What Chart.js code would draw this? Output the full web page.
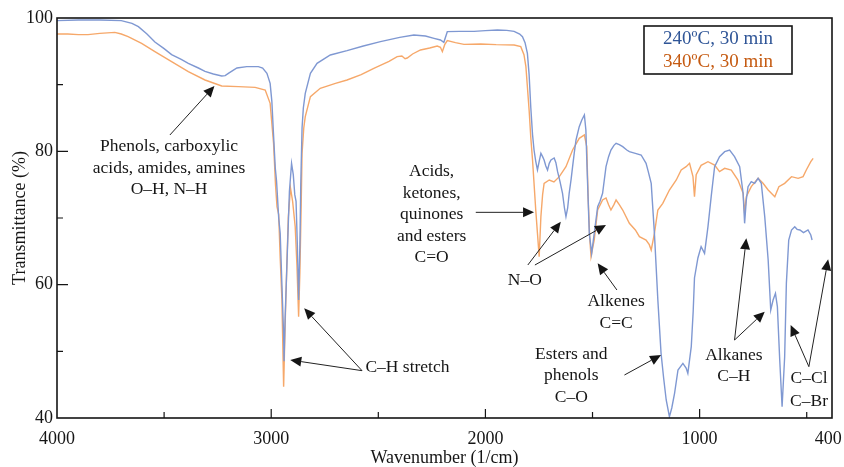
<!DOCTYPE html>
<html>
<head>
<meta charset="utf-8">
<script src="https://cdn.jsdelivr.net/npm/chart.js@4.4.0/dist/chart.umd.min.js"></script>
<style>
  html, body { margin: 0; padding: 0; background: #fff; }
</style>
</head>
<body>
<canvas id="ftir" width="844" height="467"></canvas>
<script>
// values (wavenumber in 1/cm, transmittance in %)
var seriesLabels = ['240ºC, 30 min', '340ºC, 30 min'];

var blueWavenumber = [
    4000, 3900, 3800, 3700, 3650, 3620, 3580, 3543, 3500, 3465,
    3420, 3387, 3340, 3309, 3270, 3231, 3215, 3200, 3180, 3160,
    3114, 3060, 3040, 3020, 3005, 2997, 2990, 2981, 2975, 2965,
    2958, 2950, 2942, 2940, 2935, 2927, 2915, 2905, 2897, 2890,
    2884, 2878, 2872, 2866, 2862, 2856, 2850, 2841, 2817, 2786,
    2724, 2646, 2570, 2490, 2400, 2334, 2280, 2240, 2210, 2194,
    2178, 2120, 2053, 2000, 1944, 1900, 1866, 1840, 1827, 1815,
    1804, 1796, 1788, 1780, 1773, 1765, 1757, 1749, 1741, 1733,
    1726, 1718, 1710, 1702, 1694, 1679, 1671, 1663, 1652, 1640,
    1631, 1624, 1616, 1609, 1600, 1593, 1585, 1577, 1562, 1550,
    1538, 1531, 1527, 1523, 1515, 1504, 1492, 1476, 1465, 1453,
    1437, 1425, 1414, 1400, 1390, 1375, 1359, 1340, 1328, 1300,
    1273, 1250, 1240, 1226, 1211, 1195, 1180, 1168, 1156, 1141,
    1130, 1117, 1101, 1078, 1063, 1055, 1039, 1030, 1024, 1008,
    993, 977, 961, 946, 930, 907, 883, 860, 837, 813,
    797, 790, 782, 774, 759, 743, 727, 712, 696, 680,
    668, 657, 646, 637, 626, 615, 603, 595, 584, 571,
    556, 545, 532, 515, 494, 481, 475
];
var blueTransmittance = [
    99.6, 99.7, 99.7, 99.6, 99.2, 98.7, 97.6, 96.4, 95.4, 94.5,
    93.8, 93.2, 92.5, 92.0, 91.6, 91.3, 91.35, 91.7, 92.1, 92.5,
    92.7, 92.7, 92.5, 91.7, 90.2, 87.5, 83, 77.5, 75.5, 70,
    67.7, 60, 52.5, 48.5, 55, 62.7, 74, 78.2, 76.5, 73.5,
    72.5, 66, 57.7, 66, 75, 83.5, 86.5, 88.7, 91.7, 93.2,
    94.45, 95.1, 95.8, 96.45, 97.1, 97.45, 97.3, 96.95, 96.7, 96.35,
    97.95, 98, 98, 98.1, 98.2, 98.15, 98, 97.6, 97.2, 96.3,
    94.7, 91.5, 86.5, 82.5, 80.2, 78.5, 77.2, 78.5, 79.7, 79.2,
    78.7, 77.8, 77.2, 78.2, 78.7, 79, 78.3, 76.95, 75.5, 73.7,
    71.5, 70.2, 71.5, 73.7, 75.8, 77.7, 79.8, 81.7, 83.7, 84.7,
    85.45, 83.2, 79, 75.2, 67.7, 64.7, 67.7, 71.7, 72.5, 73.7,
    77.7, 79.2, 80.2, 80.9, 81.2, 81, 80.7, 80.2, 79.95, 79.7,
    79.45, 78.2, 77, 75.2, 67.7, 57.7, 49.7, 46, 42.7, 40.2,
    41.5, 43.7, 47.2, 48.2, 47.5, 46.7, 50.7, 56, 61, 64,
    65.7, 64.7, 68.7, 73.2, 77.7, 79.2, 79.95, 80.2, 79.2, 77.7,
    73.7, 69.2, 72.7, 74.7, 75.45, 75.2, 75.95, 75.2, 70.2, 63.7,
    56.2, 57.7, 58.7, 56.7, 48.7, 41.7, 49.2, 60.2, 66.7, 68.2,
    68.7, 68.3, 68.2, 67.8, 68.2, 67.45, 66.7
];

var orangeWavenumber = [
    4000, 3950, 3900, 3855, 3800, 3730, 3700, 3668, 3605, 3543,
    3465, 3387, 3309, 3231, 3153, 3075, 3028, 3005, 2989, 2980,
    2973, 2965, 2958, 2950, 2942, 2935, 2927, 2920, 2910, 2900,
    2888, 2880, 2872, 2866, 2860, 2856, 2848, 2841, 2817, 2771,
    2700, 2646, 2580, 2521, 2450, 2412, 2390, 2375, 2365, 2340,
    2303, 2260, 2225, 2210, 2201, 2190, 2178, 2140, 2100, 2022,
    1950, 1866, 1835, 1820, 1811, 1796, 1788, 1780, 1773, 1765,
    1757, 1749, 1741, 1733, 1726, 1702, 1680, 1655, 1624, 1593,
    1562, 1538, 1527, 1520, 1513, 1507, 1492, 1476, 1453, 1437,
    1425, 1414, 1400, 1390, 1375, 1359, 1328, 1300, 1281, 1250,
    1235, 1226, 1211, 1195, 1172, 1141, 1109, 1086, 1063, 1047,
    1031, 1024, 1016, 993, 961, 930, 907, 883, 852, 821,
    797, 790, 782, 759, 727, 704, 680, 649, 630, 603,
    571, 540, 517, 502, 481, 470
];
var orangeTransmittance = [
    97.6, 97.6, 97.5, 97.5, 97.7, 97.85, 97.6, 97.2, 96.2, 94.95,
    93.45, 91.95, 90.7, 89.8, 89.7, 89.6, 89.2, 87.2, 81.2, 75,
    71.7, 70.5, 64, 57.7, 44.7, 54, 63, 70.2, 74.5, 72.5,
    68.7, 63, 55.2, 62, 72, 79.7, 83.5, 85.2, 88.2, 89.45,
    90.2, 90.7, 91.5, 92.45, 93.5, 94.2, 94.3, 93.9, 94, 94.6,
    95.2, 95.5, 95.8, 95.6, 94.95, 96, 96.6, 96.3, 96.05, 96.1,
    96, 95.95, 95.7, 94.5, 92.7, 86.2, 82, 78.7, 75.2, 71.2,
    67.7, 64.2, 70.2, 73.5, 75.2, 75.7, 75.4, 76.2, 77.7, 80.2,
    81.95, 82.45, 80.7, 72.7, 67, 64.2, 66.7, 71.2, 72.7, 73,
    72, 71.2, 72, 72.7, 72, 71.2, 69.2, 68.2, 67.2, 66.7,
    66, 65.2, 67.7, 71.2, 72.2, 74.2, 75.7, 77.2, 77.7, 78.2,
    76.2, 73.2, 76.5, 77.9, 78.45, 77.95, 76.95, 77.45, 77.2, 75.7,
    73.7, 70.7, 73.2, 74.7, 75.95, 75.2, 74.2, 73.2, 74.7, 75.2,
    76.2, 75.95, 76.2, 77.2, 78.45, 78.95
];

var xTickLabels = [4000, 3000, 2000, 1000, 400];
var xMinorTicks = [3500, 3000, 2500, 2000, 1500, 1000, 500];
var yTickLabels = [40, 60, 80, 100];
var yMinorTicks = [50, 60, 70, 80, 90];

// band assignments: text centre (wavenumber, %) and arrows [fromX, fromY, toX, toY]
var bandNotes = [
    { lines: ['Phenols, carboxylic', 'acids, amides, amines', 'O–H, N–H'], x: 3477, y: 80.7,
      arrows: [[3473, 82.45, 3265, 89.8]] },
    { lines: ['C–H stretch'], x: 2364, y: 47.65,
      arrows: [[2576, 47.1, 2911, 48.7], [2576, 47.1, 2846, 56.45]] },
    { lines: ['Acids,', 'ketones,', 'quinones', 'and esters', 'C=O'], x: 2251, y: 76.95,
      arrows: [[2045, 70.85, 1773, 70.85]] },
    { lines: ['N–O'], x: 1816, y: 60.6,
      arrows: [[1802, 62.95, 1648, 69.45], [1769, 62.95, 1437, 68.95]] },
    { lines: ['Alkenes', 'C=C'], x: 1390, y: 57.45,
      arrows: [[1386, 59.2, 1476, 63.2]] },
    { lines: ['Esters and', 'phenols', 'C–O'], x: 1599, y: 49.6,
      arrows: [[1351, 46.45, 1180, 49.45]] },
    { lines: ['Alkanes', 'C–H'], x: 840, y: 49.45,
      arrows: [[837, 51.7, 782, 66.95], [837, 51.7, 696, 55.95]] },
    { lines: ['C–Cl', 'C–Br'], x: 489, y: 45.95, gap: 23,
      arrows: [[490, 47.7, 575, 53.95], [490, 47.7, 400, 63.8]] }
];

var serif = "'Liberation Serif', 'Times New Roman', serif";
var ink = '#151515';

function toPoints(xs, ys) {
    return xs.map(function (v, i) { return { x: v, y: ys[i] }; });
}

function drawArrow(ctx, x1, y1, x2, y2) {
    var ang = Math.atan2(y2 - y1, x2 - x1);
    var len = 11, half = 5;
    var bx = x2 - len * Math.cos(ang), by = y2 - len * Math.sin(ang);
    ctx.beginPath();
    ctx.moveTo(x1, y1);
    ctx.lineTo(bx, by);
    ctx.stroke();
    ctx.beginPath();
    ctx.moveTo(x2, y2);
    ctx.lineTo(bx + half * Math.sin(ang), by - half * Math.cos(ang));
    ctx.lineTo(bx - half * Math.sin(ang), by + half * Math.cos(ang));
    ctx.closePath();
    ctx.fill();
}

var framePlugin = {
    id: 'frame',
    afterDraw: function (chart) {
        var ctx = chart.ctx, a = chart.chartArea;
        var xs = chart.scales.x, ys = chart.scales.y;
        ctx.save();
        ctx.strokeStyle = ink;
        ctx.lineWidth = 1.6;
        ctx.strokeRect(a.left, a.top, a.right - a.left, a.bottom - a.top);

        // inward tick marks
        ctx.lineWidth = 1.2;
        ctx.beginPath();
        xMinorTicks.forEach(function (v) {
            var px = xs.getPixelForValue(v);
            var l = (v % 1000 === 0) ? 9 : 6;
            ctx.moveTo(px, a.bottom);
            ctx.lineTo(px, a.bottom - l);
        });
        yMinorTicks.forEach(function (v) {
            var py = ys.getPixelForValue(v);
            var l = (v % 20 === 0) ? 11 : 6;
            ctx.moveTo(a.left, py);
            ctx.lineTo(a.left + l, py);
        });
        ctx.stroke();

        // band labels and arrows
        ctx.fillStyle = ink;
        ctx.strokeStyle = '#222';
        ctx.lineWidth = 1;
        ctx.font = '17.5px ' + serif;
        ctx.textAlign = 'center';
        ctx.textBaseline = 'middle';
        bandNotes.forEach(function (n) {
            var cx = xs.getPixelForValue(n.x), cy = ys.getPixelForValue(n.y);
            var gap = n.gap || 21.5;
            n.lines.forEach(function (t, i) {
                ctx.fillText(t, cx, cy + i * gap);
            });
            n.arrows.forEach(function (ar) {
                drawArrow(ctx, xs.getPixelForValue(ar[0]), ys.getPixelForValue(ar[1]),
                    xs.getPixelForValue(ar[2]), ys.getPixelForValue(ar[3]));
            });
        });

        // legend box in the top right corner
        var bw = 148, bh = 48;
        var bx = a.right - 40 - bw, by = a.top + 8;
        ctx.strokeStyle = ink;
        ctx.lineWidth = 1.6;
        ctx.strokeRect(bx, by, bw, bh);
        ctx.font = '19px ' + serif;
        var colors = ['#2F5597', '#C55A11'];
        chart.data.datasets.forEach(function (ds, i) {
            ctx.fillStyle = colors[i];
            ctx.fillText(ds.label, bx + bw / 2, by + 13 + i * 23);
        });
        ctx.restore();
    }
};

new Chart(document.getElementById('ftir'), {
    type: 'line',
    data: {
        datasets: [
            {
                label: seriesLabels[0],
                data: toPoints(blueWavenumber, blueTransmittance),
                borderColor: '#7F98D2',
                borderWidth: 1.4,
                pointRadius: 0,
                tension: 0
            },
            {
                label: seriesLabels[1],
                data: toPoints(orangeWavenumber, orangeTransmittance),
                borderColor: '#F6A86A',
                borderWidth: 1.4,
                pointRadius: 0,
                tension: 0
            }
        ]
    },
    options: {
        responsive: false,
        animation: false,
        layout: { padding: { top: 18, right: 12, left: 0, bottom: 0 } },
        plugins: {
            legend: { display: false },
            tooltip: { enabled: false }
        },
        scales: {
            x: {
                type: 'linear',
                reverse: true,
                min: 382,
                max: 4000,
                grid: { display: false, drawTicks: false },
                border: { display: false },
                afterBuildTicks: function (axis) {
                    axis.ticks = xTickLabels.map(function (v) { return { value: v }; });
                },
                afterFit: function (s) {
                    s.height = 49;
                    s.paddingLeft = 0;
                    s.paddingRight = 0;
                },
                ticks: {
                    autoSkip: false,
                    maxRotation: 0,
                    padding: 10,
                    color: ink,
                    font: { family: serif, size: 18 },
                    callback: function (v) { return String(v); }
                },
                title: {
                    display: true,
                    text: 'Wavenumber (1/cm)',
                    color: ink,
                    font: { family: serif, size: 18, lineHeight: 1 },
                    padding: { top: 0, bottom: 0 }
                }
            },
            y: {
                min: 40,
                max: 100,
                grid: { display: false, drawTicks: false },
                border: { display: false },
                afterBuildTicks: function (axis) {
                    axis.ticks = yTickLabels.map(function (v) { return { value: v }; });
                },
                afterFit: function (s) {
                    s.width = 57;
                    s.paddingTop = 0;
                    s.paddingBottom = 0;
                },
                ticks: {
                    padding: 4,
                    color: ink,
                    font: { family: serif, size: 18 }
                },
                title: {
                    display: true,
                    text: 'Transmittance (%)',
                    color: ink,
                    font: { family: serif, size: 18, lineHeight: 1 },
                    padding: { top: 11, bottom: 0 }
                }
            }
        }
    },
    plugins: [framePlugin]
});
</script>
</body>
</html>
